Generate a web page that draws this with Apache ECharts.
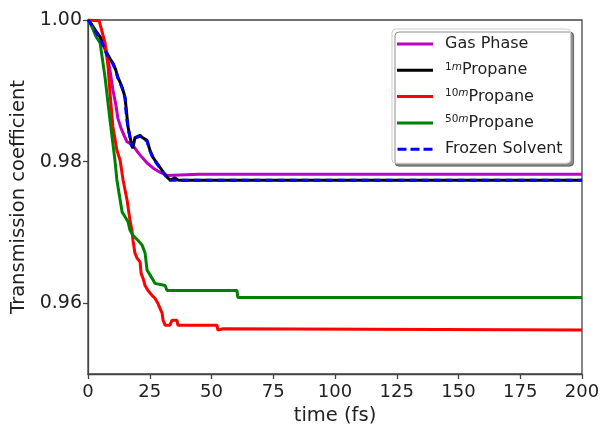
<!DOCTYPE html>
<html><head><meta charset="utf-8">
<script src="https://cdn.jsdelivr.net/npm/echarts@6/dist/echarts.min.js"></script>
<style>html,body{margin:0;padding:0;background:#fff}#c{width:603px;height:425px}</style>
</head><body><div id="c"></div>
<script>
// x ticks / y ticks
const xTicks = [0, 25, 50, 75, 100, 125, 150, 175, 200];
const yTickLabels = [0.96, 0.98, 1.00];

const seriesNames = ['Gas Phase', '1mPropane', '10mPropane', '50mPropane', 'Frozen Solvent'];

// Gas phase
const gasT = [0, 2.5, 4.9, 6.5, 7.7, 8.9, 10.1, 11.3, 12.1, 13.4, 14.6, 15.8, 18.2, 20.2, 21.9, 23.9, 26.3, 29.1, 32.0, 45.0, 200];
const gasV = [1, 0.9988, 0.9976, 0.9962, 0.9951, 0.9929, 0.9901, 0.9880, 0.9861, 0.9847, 0.9837, 0.9828, 0.9823, 0.9813, 0.9806, 0.9798, 0.9791, 0.9785, 0.97805, 0.9782, 0.9782];

// 1m Propane
const p1T = [0, 0.8, 2.5, 4.9, 6.5, 7.7, 9.0, 10.1, 11.2, 12.1, 13.0, 13.8, 15.0, 15.8, 16.2, 17.0, 17.8, 18.2, 19.0, 21.1, 22.0, 23.9, 25.1, 26.3, 27.5, 29.1, 30.5, 32.0, 33.2, 35.2, 36.4, 38, 200];
const p1V = [1, 0.9997, 0.9988, 0.9976, 0.9965, 0.9953, 0.9945, 0.9939, 0.9930, 0.9919, 0.9912, 0.9905, 0.9891, 0.9863, 0.9849, 0.9835, 0.9822, 0.9819, 0.9834, 0.9837, 0.9834, 0.9830, 0.9816, 0.9806, 0.9800, 0.9792, 0.9785, 0.9778, 0.9774, 0.9777, 0.9774, 0.97735, 0.97735];

// 10m Propane
const p10T = [0, 4.5, 4.9, 6.9, 8.1, 8.9, 10.1, 11.7, 13.0, 14.2, 15.8, 17.0, 17.8, 18.2, 19.0, 19.8, 21.1, 21.5, 22.3, 23.1, 24.3, 25.9, 27.1, 28.3, 29.1, 30.0, 30.4, 31.2, 33.2, 34.0, 36.0, 36.4, 52.2, 52.6, 54.7, 55.5, 200];
const p10V = [1, 0.9999, 0.9997, 0.99675, 0.9935, 0.9897, 0.9849, 0.9816, 0.9802, 0.9774, 0.9746, 0.9717, 0.9703, 0.9689, 0.9671, 0.9664, 0.9658, 0.9642, 0.9635, 0.9625, 0.9618, 0.9611, 0.9607, 0.9600, 0.9593, 0.9586, 0.9576, 0.9569, 0.9569, 0.9576, 0.9576, 0.9569, 0.9569, 0.9562, 0.9564, 0.9562, 0.9562];

// 50m Propane
const p50T = [0, 0.8, 3.2, 4.9, 6.9, 8.9, 10.9, 11.7, 13.0, 13.8, 15.0, 16.2, 17.0, 18.2, 20.2, 21.9, 23.1, 23.9, 25.1, 26.3, 27.1, 31.2, 32.0, 60.3, 60.7, 200];
const p50V = [1, 0.9997, 0.9977, 0.99675, 0.9919, 0.9859, 0.9802, 0.9774, 0.9746, 0.9729, 0.9722, 0.9715, 0.9703, 0.9696, 0.9689, 0.9682, 0.9671, 0.9647, 0.9640, 0.9633, 0.9628, 0.9625, 0.9618, 0.9618, 0.9608, 0.9608];

// Frozen solvent
const frzT = [0, 0.8, 2.5, 4.5, 6.2, 7.5, 9.0, 10.1, 11.2, 12.1, 13.0, 13.8, 15.0, 15.6, 16.2, 17.0, 17.6, 18.2, 19.0, 21.1, 22.0, 23.9, 25.1, 26.3, 27.5, 29.1, 30.5, 32.0, 33.2, 200];
const frzV = [1, 0.9997, 0.9987, 0.9975, 0.9964, 0.9952, 0.9944, 0.9938, 0.9929, 0.9918, 0.9911, 0.9904, 0.9889, 0.9862, 0.9848, 0.9834, 0.9822, 0.9820, 0.9833, 0.9836, 0.9833, 0.9829, 0.9815, 0.9805, 0.9799, 0.9791, 0.9784, 0.9777, 0.97735, 0.97735];

const zip = (t, v) => t.map((x, i) => [x, v[i]]);
const colors = ['#bf00bf', '#000000', '#ff0000', '#008000', '#0000ff'];
const dataSets = [zip(gasT, gasV), zip(p1T, p1V), zip(p10T, p10V), zip(p50T, p50V), zip(frzT, frzV)];

const chart = echarts.init(document.getElementById('c'), null, {renderer: 'canvas'});
const FONT = 'DejaVu Sans';
const solidIcon = 'path://M0,0H36V3H0Z';
const dashIcon = 'path://M0,0H9V3H0Z M13,0H22V3H13Z M26,0H35V3H26Z';

chart.setOption({
  animation: false,
  backgroundColor: '#fff',
  grid: {left: 88, right: 21, top: 20, bottom: 51, show: true, borderColor: '#444', borderWidth: 1.3,
    backgroundColor: 'transparent', containLabel: false, outerBoundsMode: 'none'},
  xAxis: {
    type: 'value', min: xTicks[0], max: xTicks[xTicks.length - 1], interval: 25,
    name: 'time (fs)', nameLocation: 'middle', nameGap: 31,
    nameTextStyle: {fontFamily: FONT, fontSize: 19.5, color: '#222'},
    axisLine: {onZero: false, lineStyle: {color: '#444', width: 1.3}},
    axisTick: {length: 5, lineStyle: {color: '#444', width: 1.3}},
    axisLabel: {fontFamily: FONT, fontSize: 18, color: '#222', margin: 9},
    splitLine: {show: false}
  },
  yAxis: {
    type: 'value', min: 0.95, max: 1.00, interval: 0.01,
    name: 'Transmission coefficient', nameLocation: 'middle', nameGap: 58,
    nameTextStyle: {fontFamily: FONT, fontSize: 19.5, color: '#222'},
    axisLine: {show: true, lineStyle: {color: '#444', width: 1.3}},
    axisTick: {show: true, length: 5, lineStyle: {color: '#444', width: 1.3}, customValues: yTickLabels},
    axisLabel: {fontFamily: FONT, fontSize: 19, color: '#222', margin: 6,
      customValues: yTickLabels, formatter: v => v.toFixed(2)},
    splitLine: {show: false}
  },
  legend: {
    orient: 'vertical', left: 392, top: 29,
    padding: [6, 8, 5, 5],
    backgroundColor: '#fff', borderColor: '#ccc', borderWidth: 1, borderRadius: 4,
    shadowColor: 'rgba(0,0,0,0.45)', shadowBlur: 0, shadowOffsetX: 3, shadowOffsetY: 3,
    itemWidth: 36, itemHeight: 3, itemGap: 8.3,
    data: seriesNames.map((n, i) => ({name: n, icon: i === 4 ? dashIcon : solidIcon})),
    formatter: n => {
      if (n === '1mPropane') return '{s|1}{si|m}Propane';
      if (n === '10mPropane') return '{s|10}{si|m}Propane';
      if (n === '50mPropane') return '{s|50}{si|m}Propane';
      return n;
    },
    textStyle: {fontFamily: FONT, fontSize: 16, color: '#222', lineHeight: 18, padding: [0, 0, 0, 7],
      rich: {
        s: {fontFamily: FONT, fontSize: 10.5, color: '#222', verticalAlign: 'top', lineHeight: 18, padding: [0, 0, 7, 0]},
        si: {fontFamily: FONT, fontSize: 10.5, fontStyle: 'italic', color: '#222', verticalAlign: 'top', lineHeight: 18, padding: [0, 0, 7, 0]}
      }
    }
  },
  series: seriesNames.map((name, i) => ({
    name, type: 'line', symbol: 'none', data: dataSets[i],
    z: 2 + i,
    lineStyle: {color: colors[i], width: 3, type: i === 4 ? [7, 5] : 'solid'},
    itemStyle: {color: colors[i]}
  }))
});
</script></body></html>
